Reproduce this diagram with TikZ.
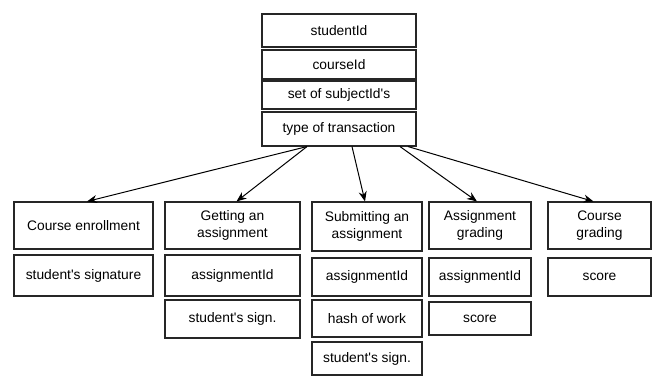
\documentclass[tikz,border=0pt]{standalone}
\usepackage{fontspec}
\setmainfont{Liberation Sans}
\usetikzlibrary{arrows.meta}
\begin{document}
\begin{tikzpicture}[x=1pt,y=-1pt,
  box/.style={draw=black!85, line width=1.1pt, fill=white, inner sep=0pt,
    align=center, font=\fontsize{13.8}{16.5}\selectfont},
  arr/.style={draw=black, line width=1pt, -{Stealth[length=10pt,width=8pt]}}]
\useasboundingbox (0,0) rectangle (659,376);
% top stack
\node[box, minimum width=154pt, minimum height=33pt] (sid) at (339,30.5) {studentId};
\node[box, minimum width=154pt, minimum height=29pt] (cid) at (339,64.5) {courseId};
\node[box, minimum width=154pt, minimum height=28pt] (set) at (339,95) {set of subjectId\textquotesingle s};
\node[box, minimum width=154pt, minimum height=34pt] (type) at (339,129) {type of transaction};
% column 1
\node[box, minimum width=139pt, minimum height=47pt] (ce) at (83.5,225.5) {Course enrollment};
\node[box, minimum width=139pt, minimum height=41pt] (ss) at (83.5,275.5) {student\textquotesingle s signature};
% column 2
\node[box, minimum width=135pt, minimum height=47pt] (ga) at (232.5,225.5) {Getting an\\assignment};
\node[box, minimum width=135pt, minimum height=41pt] (gaid) at (232.5,275.5) {assignmentId};
\node[box, minimum width=135pt, minimum height=38pt] (gass) at (232.5,319) {student\textquotesingle s sign.};
% column 3
\node[box, minimum width=110pt, minimum height=49pt] (sa) at (367,226.5) {Submitting an\\assignment};
\node[box, minimum width=110pt, minimum height=38pt] (said) at (367,277) {assignmentId};
\node[box, minimum width=110pt, minimum height=37pt] (hash) at (367,318.5) {hash of work};
\node[box, minimum width=110pt, minimum height=33pt] (sass) at (367,358.5) {student\textquotesingle s sign.};
% column 4
\node[box, minimum width=102pt, minimum height=47pt] (ag) at (480,225.5) {Assignment\\grading};
\node[box, minimum width=102pt, minimum height=38pt] (agid) at (480,277) {assignmentId};
\node[box, minimum width=102pt, minimum height=33pt] (agsc) at (480,318.5) {score};
% column 5
\node[box, minimum width=103pt, minimum height=47pt] (cg) at (599.5,225.5) {Course\\grading};
\node[box, minimum width=103pt, minimum height=38pt] (cgsc) at (599.5,277) {score};
% arrows
\draw[arr] ([xshift=-32pt]type.south) -- ([xshift=3.5pt]ce.north);
\draw[arr] ([xshift=-32pt]type.south) -- ([xshift=4pt]ga.north);
\draw[arr] ([xshift=13pt]type.south) -- ([xshift=-2pt]sa.north);
\draw[arr] ([xshift=61pt]type.south) -- ([xshift=-3pt]ag.north);
\draw[arr] ([xshift=69pt]type.south) -- ([xshift=-6pt]cg.north);
\end{tikzpicture}
\end{document}
